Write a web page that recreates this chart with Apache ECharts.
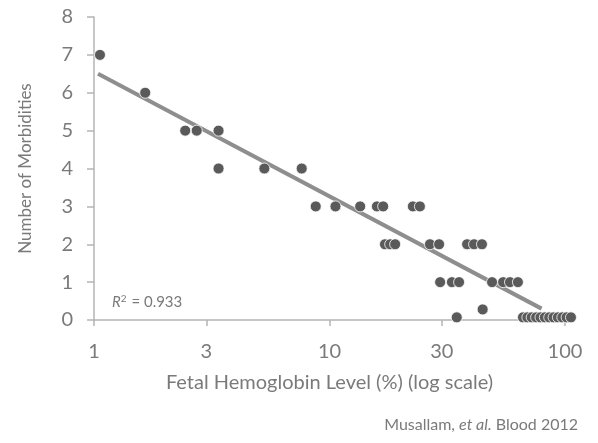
<!DOCTYPE html>
<html>
<head>
<meta charset="utf-8">
<script src="https://cdn.jsdelivr.net/npm/echarts@6.0.0/dist/echarts.min.js"></script>
<style>
html,body{margin:0;padding:0;background:#fff;}
#chart{width:598px;height:443px;}
</style>
</head>
<body>
<div id="chart"></div>
<script>
// Fetal hemoglobin level (%) of each patient
var fetalHbLevels = [
  1.06, 1.65, 2.44, 2.73, 3.38, 3.38, 5.29, 7.62,
  8.74, 10.6, 13.5, 15.9, 16.9, 22.6, 24.2,
  17.2, 18.1, 19.0, 26.7, 29.2, 38.4, 41.1, 44.4,
  29.5, 33.1, 35.5, 49.0, 54.6, 58.4, 63.1,
  44.7, 34.7,
  66.3, 69.2, 72.2, 75.4, 78.7, 82.1, 85.7, 89.4, 93.3, 97.4, 101.6, 106.0
];
// Number of morbidities for each patient
var morbidities = [
  7, 6, 5, 5, 5, 4, 4, 4,
  3, 3, 3, 3, 3, 3, 3,
  2, 2, 2, 2, 2, 2, 2, 2,
  1, 1, 1, 1, 1, 1, 1,
  0.28, 0.07,
  0.07, 0.07, 0.07, 0.07, 0.07, 0.07, 0.07, 0.07, 0.07, 0.07, 0.07, 0.07
];
// Trend line end points
var trendX = [1.04, 79.5];
var trendY = [6.5, 0.3];
var xTickValues = [1, 3, 10, 30, 100];
var rSquared = '0.933';

var points = fetalHbLevels.map(function (v, i) { return [v, morbidities[i]]; })
  .sort(function (a, b) { return a[0] - b[0]; });
var trend = trendX.map(function (v, i) { return [v, trendY[i]]; });

var textColor = '#7a7a7a';
var axisColor = '#b4b4b4';
var font = 'Lato, "Open Sans", sans-serif';

var chart = echarts.init(document.getElementById('chart'));
chart.setOption({
  animation: false,
  backgroundColor: '#fff',
  title: [
    {
      left: 107, top: 289,
      text: '{i|R}{s|2}{n| = ' + rSquared + '}',
      textStyle: {
        fontWeight: 'normal',
        rich: {
          i: { fontFamily: font, fontStyle: 'italic', fontWeight: 'normal', fontSize: 15, color: textColor },
          s: { fontFamily: font, fontSize: 10, fontWeight: 'normal', color: textColor, verticalAlign: 'top', padding: [0, 1, 7, 0] },
          n: { fontFamily: font, fontSize: 15, fontWeight: 'normal', color: textColor }
        }
      }
    },
    {
      right: 15, top: 412,
      text: '{n|Musallam, }{i|et al.}{n| Blood 2012}',
      textStyle: {
        fontWeight: 'normal',
        rich: {
          n: { fontFamily: font, fontSize: 16, fontWeight: 'normal', color: textColor },
          i: { fontFamily: font, fontSize: 16, fontStyle: 'italic', fontWeight: 'normal', color: textColor }
        }
      }
    }
  ],
  grid: { left: 94, right: 33, top: 17, bottom: 123, containLabel: false },
  xAxis: {
    type: 'log',
    logBase: 10,
    min: 1,
    max: 100,
    name: 'Fetal Hemoglobin Level (%) (log scale)',
    nameLocation: 'middle',
    nameGap: 53,
    nameTextStyle: { fontFamily: font, fontSize: 20, color: textColor },
    axisLine: { show: true, lineStyle: { color: axisColor, width: 1.5 } },
    axisTick: { show: true, length: 6, customValues: xTickValues, lineStyle: { color: axisColor, width: 1.5 } },
    axisLabel: {
      customValues: xTickValues,
      margin: 22,
      fontFamily: font, fontSize: 20, color: textColor,
      formatter: function (v) { return String(Math.round(v)); }
    },
    splitLine: { show: false },
    minorTick: { show: false }
  },
  yAxis: {
    type: 'value',
    min: 0,
    max: 8,
    interval: 1,
    name: 'Number of Morbidities',
    nameLocation: 'middle',
    nameGap: 60,
    nameTextStyle: { fontFamily: font, fontSize: 17, color: textColor },
    axisLine: { show: true, lineStyle: { color: axisColor, width: 1.5 } },
    axisTick: { show: true, length: 7, lineStyle: { color: axisColor, width: 1.5 } },
    axisLabel: { margin: 21, fontFamily: font, fontSize: 20, color: textColor },
    splitLine: { show: false }
  },
  series: [
    {
      type: 'line',
      data: trend,
      symbol: 'none',
      lineStyle: { color: '#8e8e8e', width: 4 },
      z: 2,
      silent: true
    },
    {
      type: 'scatter',
      data: points,
      symbolSize: 11,
      clip: false,
      itemStyle: { color: '#5a5a5a', borderColor: '#ffffff', borderWidth: 0.8, opacity: 1 },
      z: 3
    }
  ]
});
</script>
</body>
</html>
